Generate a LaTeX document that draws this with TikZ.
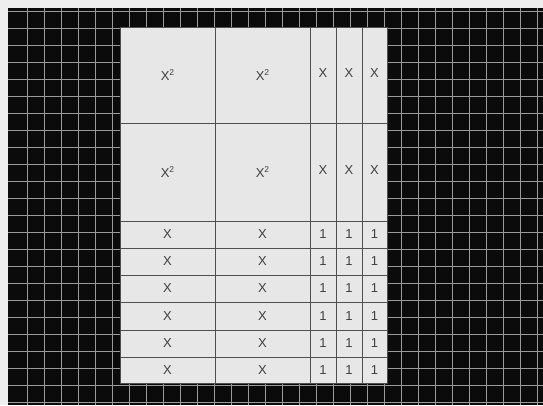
\documentclass[tikz,border=0pt]{standalone}
\usepackage{fontspec}
\setmainfont{Liberation Sans}
\definecolor{bgout}{HTML}{EEEEEE}
\definecolor{board}{HTML}{0B0B0B}
\definecolor{gridc}{HTML}{9A9A9A}
\definecolor{paper}{HTML}{E7E7E7}
\definecolor{tileline}{HTML}{505050}
\definecolor{ink}{HTML}{404040}
\newcommand\tileat[6]{\node[tile, minimum width={#3-#1}, minimum height={#4-#2}] (#5) at ({(#1+#3)/2},{(#2+#4)/2}) {#6};}
\newcommand\sqlabel{X\raisebox{0.7ex}{\fontsize{8.5}{8.5}\selectfont 2}}
\begin{document}
\begin{tikzpicture}[x=1pt,y=-1pt,
  tile/.style={draw=tileline, line width=1pt, fill=paper, inner sep=0pt, outer sep=0pt,
    font=\fontsize{13}{15}\selectfont, text=ink},
  gridline/.style={gridc, line width=0.9pt}]
\useasboundingbox (0,0) rectangle (543,405);
\fill[bgout] (0,0) rectangle (543,405);
\fill[board] (8,8) rectangle (543,405);
\foreach \x in {27,44,...,543} \draw[gridline] (\x,8) -- (\x,405);
\foreach \y in {11,28,...,405} \draw[gridline] (8,\y) -- (543,\y);
% paper
\fill[paper] (120,27) rectangle (387,383);
% big squares
\tileat{120}{27}{215}{123}{sqA1}{\sqlabel}
\tileat{215}{27}{310}{123}{sqB1}{\sqlabel}
\tileat{120}{123}{215}{221}{sqA2}{\sqlabel}
\tileat{215}{123}{310}{221}{sqB2}{\sqlabel}
% vertical x strips
\foreach \xa/\xb/\n in {310/336/a,336/362/b,362/387/c}{
  \tileat{\xa}{27}{\xb}{123}{xv1\n}{\raisebox{4pt}{X}}
  \tileat{\xa}{123}{\xb}{221}{xv2\n}{\raisebox{4pt}{X}}
}
% horizontal x strips and units
\foreach \ya/\yb/\r in {221/248/1,248/275/2,275/302/3,302/330/4,330/357/5,357/383/6}{
  \tileat{120}{\ya}{215}{\yb}{xhA\r}{X}
  \tileat{215}{\ya}{310}{\yb}{xhB\r}{X}
  \tileat{310}{\ya}{336}{\yb}{u\r a}{1}
  \tileat{336}{\ya}{362}{\yb}{u\r b}{1}
  \tileat{362}{\ya}{387}{\yb}{u\r c}{1}
}
\end{tikzpicture}
\end{document}
